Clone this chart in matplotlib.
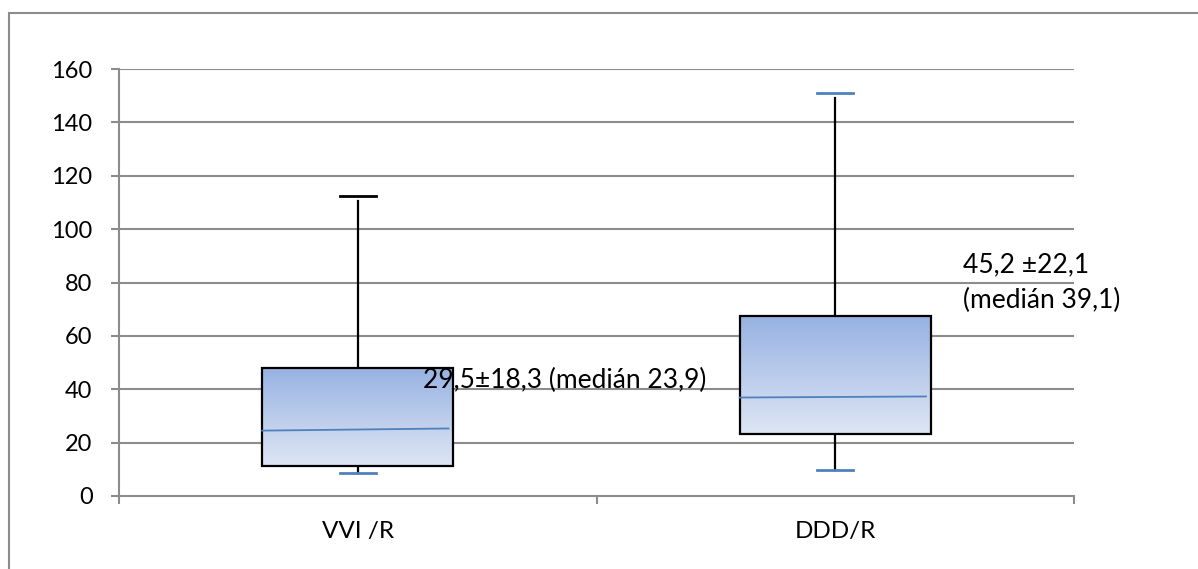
import matplotlib
matplotlib.use('Agg')
import matplotlib.pyplot as plt
import numpy as np
from matplotlib.patches import Rectangle
from matplotlib.colors import LinearSegmentedColormap

# ---------------- data ----------------
categories = ['VVI /R', 'DDD/R']
q1 = [11.2, 23.2]
q3 = [48.0, 67.4]
med_left = [24.5, 36.9]
med_right = [25.3, 37.3]
whisk_min = [8.6, 9.7]
whisk_max = [112.4, 151.0]
top_cap_colors = ['black', '#4F81BD']
labels = ['29,5\u00b118,3 (medián 23,9)', '45,2 \u00b122,1\n(medián 39,1)']
label_pos = [(0.637, 40.5), (1.768, 70.4)]

yticks = [0, 20, 40, 60, 80, 100, 120, 140, 160]

plt.rcParams['font.family'] = ['Lato', 'DejaVu Sans']

W, H = 1198, 569
fig = plt.figure(figsize=(W/100, H/100), dpi=100)
ax = fig.add_axes([119/W, (H-496)/H, 955/W, 427/H])

# outer chart border (runs off the right / bottom of the picture)
fig.patches.append(Rectangle((9/W, -0.1), 1.2, (H-12.5)/H + 0.1, transform=fig.transFigure,
                             fill=False, edgecolor='#8C8C8C', lw=1.5, zorder=0))

grid_c = '#8C8C8C'
ax.set_yticks(yticks)
ax.set_xticks([0.5, 1.5])
ax.set_xticklabels(categories)
ax.set_xticks([0.0, 1.0, 2.0], minor=True)
for y in yticks[1:]:
    ax.axhline(y, color=grid_c, lw=1.5, zorder=1)
for s in ['top', 'right']:
    ax.spines[s].set_visible(False)
for s in ['left', 'bottom']:
    ax.spines[s].set_color(grid_c)
    ax.spines[s].set_linewidth(1.5)
ax.tick_params(axis='y', length=6, width=1.5, color=grid_c, pad=13, labelsize=17)
ax.tick_params(axis='x', which='minor', length=6, width=1.5, color=grid_c)
ax.tick_params(axis='x', which='major', length=0, pad=18, labelsize=17.5)

cmap = LinearSegmentedColormap.from_list('g', ['#DEE6F4', '#97B2E2'])
grad = np.linspace(0, 1, 256).reshape(-1, 1)
bw = 0.4
cw = 0.075
gap = 2.0

for i in range(len(categories)):
    xc = 0.5 + i
    # whiskers
    ax.plot([xc, xc], [q3[i], whisk_max[i] - gap], color='black', lw=1.6, zorder=2)
    ax.plot([xc, xc], [whisk_min[i], q1[i]], color='black', lw=1.6, zorder=2)
    ax.plot([xc - cw/2, xc + cw/2], [whisk_max[i], whisk_max[i]], color=top_cap_colors[i], lw=2, zorder=3)
    ax.plot([xc - cw/2, xc + cw/2], [whisk_min[i], whisk_min[i]], color='#4F81BD', lw=2, zorder=3)
    # box with gradient fill
    im = ax.imshow(grad, cmap=cmap, origin='lower', aspect='auto', interpolation='bilinear',
                   extent=[xc - bw/2, xc + bw/2, q1[i], q3[i]], zorder=3)
    rect = Rectangle((xc - bw/2, q1[i]), bw, q3[i] - q1[i], fill=False,
                     edgecolor='black', lw=1.6, zorder=4)
    ax.add_patch(rect)
    ax.plot([xc - bw/2, xc + bw/2 - 0.01], [med_left[i], med_right[i]], color='#4F81BD', lw=1.3, zorder=5)
    ax.text(label_pos[i][0], label_pos[i][1], labels[i], fontsize=19, va='baseline',
            ha='left', zorder=6, linespacing=1.55)

ax.set_xlim(0, 2)
ax.set_ylim(0, 160)

fig.savefig('out.png', dpi=100)
